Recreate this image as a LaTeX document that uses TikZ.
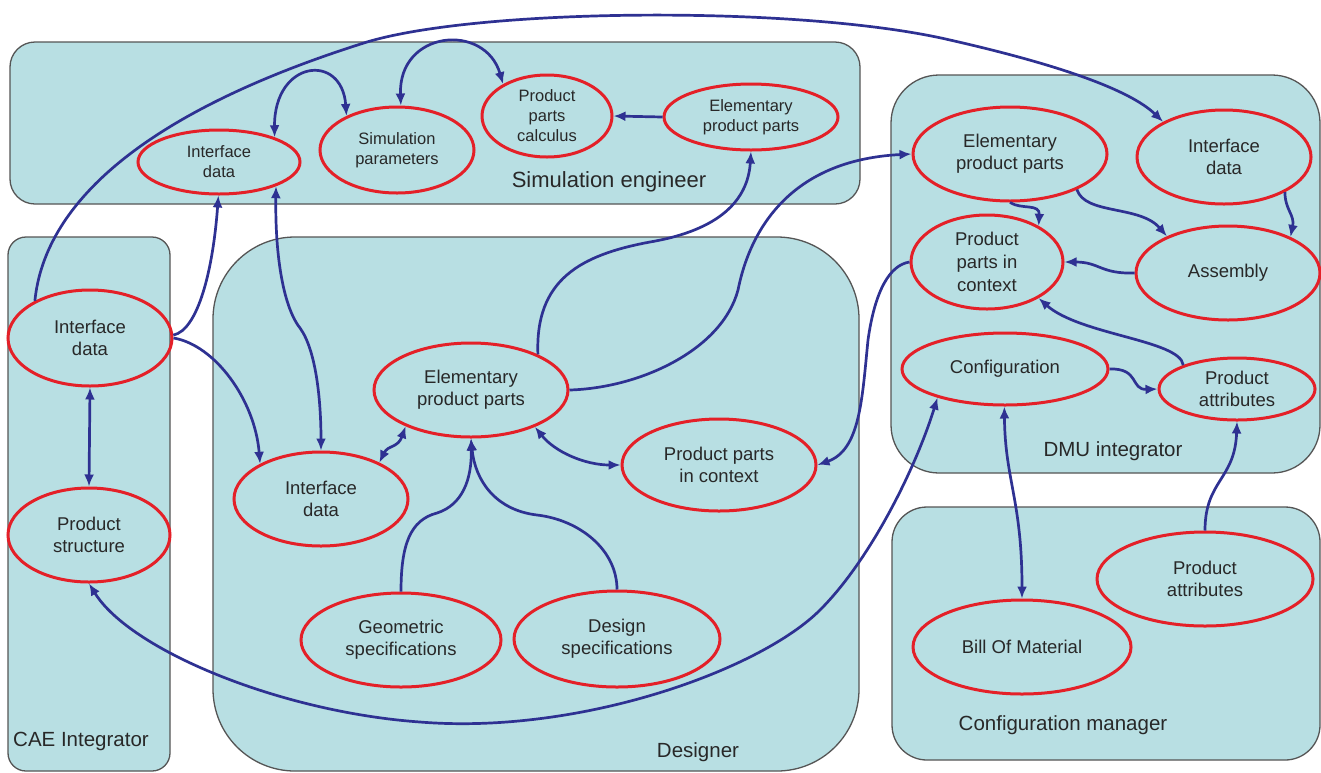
\documentclass[tikz,border=0pt]{standalone}
\usepackage{fontspec}
\setmainfont{Liberation Sans}
\usetikzlibrary{shapes.geometric,arrows.meta}
\definecolor{boxfill}{RGB}{184,223,227}
\definecolor{boxline}{RGB}{85,85,85}
\definecolor{ellred}{RGB}{228,32,40}
\definecolor{navy}{RGB}{46,49,146}
\definecolor{txt}{RGB}{40,40,40}
\begin{document}
\begin{tikzpicture}[x=1pt,y=-1pt,
 box/.style={draw=boxline,fill=boxfill,line width=1.3pt},
 ell/.style={ellipse,draw=ellred,line width=3pt,inner sep=0pt,align=center,text=txt,font=\fontsize{18.5}{22}\selectfont},
 sell/.style={ell,font=\fontsize{16.5}{20}\selectfont},
 title/.style={text=txt,font=\fontsize{20.5}{24}\selectfont,inner sep=0pt},
 conn/.style={draw=navy,line width=2.7pt,-{Latex[length=12pt,width=10pt]}},
 bconn/.style={draw=navy,line width=2.7pt,{Latex[length=12pt,width=10pt]}-{Latex[length=12pt,width=10pt]}},
]
\useasboundingbox (0,0) rectangle (1321,772);
\fill[white] (0,0) rectangle (1321,772);
% boxes
\draw[box,rounded corners=25pt] (10,42) rectangle (860,204);
\draw[box,rounded corners=18pt] (8,237) rectangle (170,771);
\draw[box,rounded corners=82pt] (213,237) rectangle (859,771);
\draw[box,rounded corners=48pt] (891,75) rectangle (1320,473);
\draw[box,rounded corners=35pt] (892,507) rectangle (1320,760);
% titles
\node[title,font=\fontsize{22}{26}\selectfont] (tse) at (609,182) {Simulation engineer};
\node[title,anchor=west] (tcae) at (13,741) {CAE Integrator};
\node[title] (tdes) at (698,752) {Designer};
\node[title] (tdmu) at (1113,451) {DMU integrator};
\node[title] (tcm) at (1063,725) {Configuration manager};
% Simulation engineer nodes
\node[sell,minimum width=162,minimum height=64] (sei) at (219,162) {Interface\\data};
\node[sell,minimum width=154,minimum height=86] (sp) at (397,150) {Simulation\\parameters};
\node[sell,minimum width=130,minimum height=82] (ppc) at (547,116) {Product\\parts\\calculus};
\node[sell,minimum width=174,minimum height=66] (sep) at (751,117) {Elementary\\product parts};
% CAE nodes
\node[ell,minimum width=164,minimum height=96] (ci) at (90,338) {Interface\\data};
\node[ell,minimum width=162,minimum height=94] (ps) at (89,535) {Product\\structure};
% Designer nodes
\node[ell,minimum width=174,minimum height=94] (dgi) at (321,499) {Interface\\data};
\node[ell,minimum width=194,minimum height=94] (de) at (471,390) {Elementary\\product parts};
\node[ell,minimum width=194,minimum height=92] (dppc) at (719,465) {Product parts\\in context};
\node[ell,minimum width=200,minimum height=94] (gs) at (401,640) {Geometric\\specifications};
\node[ell,minimum width=206,minimum height=96] (ds) at (617,639) {Design\\specifications};
% DMU nodes
\node[ell,minimum width=194,minimum height=94] (dep) at (1010,154) {Elementary\\product parts};
\node[ell,minimum width=174,minimum height=94] (di) at (1224,157) {Interface\\data};
\node[ell,minimum width=152,minimum height=94,font=\fontsize{18.5}{23}\selectfont] (mppc) at (987,262) {Product\\parts in\\context};
\node[ell,minimum width=184,minimum height=94] (asm) at (1228,273) {Assembly};
\node[ell,minimum width=206,minimum height=72] (cfg) at (1005,369) {Configuration};
\node[ell,minimum width=156,minimum height=62] (dpa) at (1237,389) {Product\\attributes};
% Configuration manager nodes
\node[ell,minimum width=216,minimum height=94] (cpa) at (1205,579) {Product\\attributes};
\node[ell,minimum width=218,minimum height=94] (bom) at (1022,647) {Bill Of Material};
% connectors
\draw[conn] (ci.146) .. controls (45,200) and (150,110) .. (367,42) .. controls (480,8) and (800,5) .. (950,40) .. controls (1060,65) and (1130,90) .. (di.150);
\draw[conn] (ci.2) .. controls (198,330) and (213,270) .. (sei.-91);
\draw[conn] (ci.0) .. controls (215,345) and (255,400) .. (dgi.150);
\draw[bconn] (sei.-23) .. controls (275,250) and (282,305) .. (300,328) .. controls (316,350) and (321,400) .. (dgi.90);
\draw[bconn] (ci.-90) -- (ps.90);
\draw[bconn] (sei.24) .. controls (274,60) and (342,52) .. (sp.146);
\draw[bconn] (sp.85) .. controls (398,30) and (485,22) .. (ppc.144);
\draw[conn] (sep.180) -- (ppc.0);
\draw[conn] (de.28) .. controls (535,280) and (580,255) .. (650,242) .. controls (720,230) and (748,200) .. (sep.-90);
\draw[conn] (de.0) .. controls (640,388) and (722,350) .. (738,290) .. controls (750,230) and (790,160) .. (dep.180);
\draw[bconn] (dgi.32) .. controls (388,445) and (398,448) .. (de.209);
\draw[bconn] (de.-30) .. controls (555,452) and (585,465) .. (dppc.180);
\draw[conn] (gs.90) .. controls (401,545) and (410,520) .. (437,513) .. controls (462,505) and (472,480) .. (de.-90);
\draw[conn] (ds.90) .. controls (617,550) and (580,520) .. (537,515) .. controls (495,510) and (475,480) .. (de.-90);
\draw[conn] (mppc.180) .. controls (890,265) and (875,290) .. (868,340) .. controls (862,400) and (860,450) .. (dppc.0);
\draw[conn] (dep.-90) .. controls (1022,210) and (1040,203) .. (mppc.35);
\draw[conn] (dep.-28) .. controls (1085,215) and (1140,205) .. (asm.149);
\draw[conn] (di.-30) .. controls (1285,210) and (1295,215) .. (asm.30);
\draw[conn] (asm.180) .. controls (1100,274) and (1100,262) .. (mppc.0);
\draw[conn] (dpa.156) .. controls (1180,340) and (1080,335) .. (mppc.-35);
\draw[conn] (cfg.0) .. controls (1140,368) and (1130,390) .. (dpa.180);
\draw[bconn] (cfg.203) .. controls (915,470) and (870,560) .. (820,610) .. controls (760,670) and (580,735) .. (420,722) .. controls (280,712) and (130,650) .. (ps.-90);
\draw[bconn] (cfg.-91) .. controls (1005,480) and (1022,500) .. (bom.90);
\draw[conn] (cpa.90) .. controls (1205,480) and (1235,480) .. (dpa.-90);
\end{tikzpicture}
\end{document}
